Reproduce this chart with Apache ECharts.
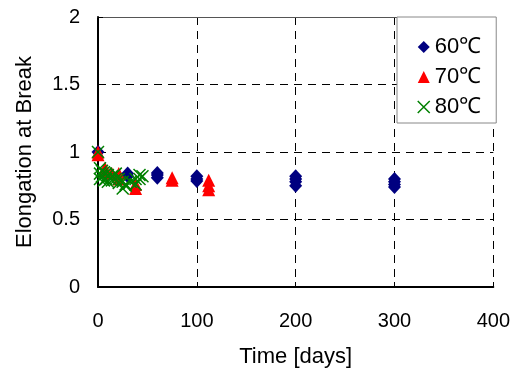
<!DOCTYPE html>
<html>
<head>
<meta charset="utf-8">
<script src="https://cdn.jsdelivr.net/npm/echarts@6/dist/echarts.min.js"></script>
<style>html,body{margin:0;padding:0;background:#fff}#c{width:513px;height:376px}</style>
</head>
<body>
<div id="c"></div>
<script>
var seriesNames = ['60℃', '70℃', '80℃'];
var days60 = [0, 30, 30, 60, 60, 60, 100, 100, 100, 200, 200, 200, 200, 300, 300, 300, 300];
var vals60 = [1.0, 0.84, 0.82, 0.845, 0.83, 0.81, 0.82, 0.80, 0.785, 0.82, 0.80, 0.78, 0.75, 0.80, 0.78, 0.76, 0.74];
var days70 = [0, 0, 7, 7, 14, 21, 21, 38, 38, 75, 75, 112, 112, 112];
var vals70 = [1.0, 0.98, 0.88, 0.86, 0.84, 0.84, 0.80, 0.76, 0.73, 0.81, 0.79, 0.79, 0.75, 0.72];
var days80 = [0, 2, 2, 2, 4, 4, 6, 6, 8, 8, 10, 10, 14, 14, 18, 18, 21, 21, 25, 25, 28, 28, 33, 38, 38, 42, 42, 45];
var vals80 = [1.0, 0.88, 0.84, 0.80, 0.86, 0.82, 0.85, 0.79, 0.84, 0.80, 0.83, 0.78, 0.82, 0.79, 0.84, 0.80, 0.80, 0.77, 0.78, 0.73, 0.76, 0.75, 0.78, 0.80, 0.76, 0.83, 0.80, 0.82];
var xTicks = [0, 100, 200, 300, 400];
var yTicks = [0, 0.5, 1, 1.5, 2];

function pairs(xs, ys) { return xs.map(function (x, i) { return [x, ys[i]]; }); }
var xPath = 'path://M0,0L10,10M10,0L0,10';
var font = 'Liberation Sans, Arial, sans-serif';

var chart = echarts.init(document.getElementById('c'), null, {renderer: 'canvas'});
chart.setOption({
  animation: false,
  backgroundColor: '#fff',
  textStyle: {fontFamily: font},
  grid: {left: 98, right: 17, top: 17, bottom: 89, containLabel: false},
  legend: {
    orient: 'vertical', left: 397, top: 17,
    backgroundColor: '#fff', borderColor: '#888', borderWidth: 1,
    padding: [19, 15, 5, 20],
    itemGap: 8, itemWidth: 12, itemHeight: 12,
    textStyle: {fontSize: 22, color: '#000', fontFamily: font},
    data: [
      {name: seriesNames[0], icon: 'diamond'},
      {name: seriesNames[1], icon: 'triangle'},
      {name: seriesNames[2], icon: xPath, itemStyle: {color: 'transparent', borderColor: '#008000', borderWidth: 1.5}}
    ]
  },
  xAxis: [{
    type: 'value', min: 0, max: 400, interval: 100,
    axisLine: {show: true, lineStyle: {color: '#000', width: 2}},
    axisTick: {show: true, inside: true, length: 5, lineStyle: {color: '#000'}},
    axisLabel: {fontSize: 20, color: '#000', margin: 24, fontFamily: font},
    splitLine: {show: true, lineStyle: {color: '#000', type: [8, 6], width: 1}},
    name: 'Time [days]', nameLocation: 'middle', nameGap: 59,
    nameTextStyle: {fontSize: 22, color: '#000', fontFamily: font}
  }, {
    type: 'value', min: 0, max: 400, position: 'top',
    axisLine: {show: true, lineStyle: {color: '#555', width: 1}},
    axisTick: {show: false}, axisLabel: {show: false}, splitLine: {show: false}
  }],
  yAxis: {
    type: 'value', min: 0, max: 2, interval: 0.5,
    axisLine: {show: true, lineStyle: {color: '#000', width: 2}},
    axisTick: {show: true, inside: true, length: 5, lineStyle: {color: '#000'}},
    axisLabel: {fontSize: 20, color: '#000', margin: 18, fontFamily: font,
      formatter: function (v) { return String(v); }},
    splitLine: {show: true, lineStyle: {color: '#000', type: [8, 6], width: 1}},
    name: 'Elongation at Break', nameLocation: 'middle', nameGap: 62,
    nameTextStyle: {fontSize: 22, color: '#000', fontFamily: font}
  },
  series: [
    {name: seriesNames[0], type: 'scatter', symbol: 'diamond', symbolSize: [13, 14],
     itemStyle: {color: '#000080', opacity: 1}, data: pairs(days60, vals60)},
    {name: seriesNames[1], type: 'scatter', symbol: 'triangle', symbolSize: [13, 13],
     itemStyle: {color: '#ff0000', opacity: 1}, data: pairs(days70, vals70)},
    {name: seriesNames[2], type: 'scatter', symbol: xPath, symbolSize: [12, 12],
     itemStyle: {color: 'transparent', borderColor: '#008000', borderWidth: 1.5, opacity: 1},
     data: pairs(days80, vals80)}
  ]
});
</script>
</body>
</html>
